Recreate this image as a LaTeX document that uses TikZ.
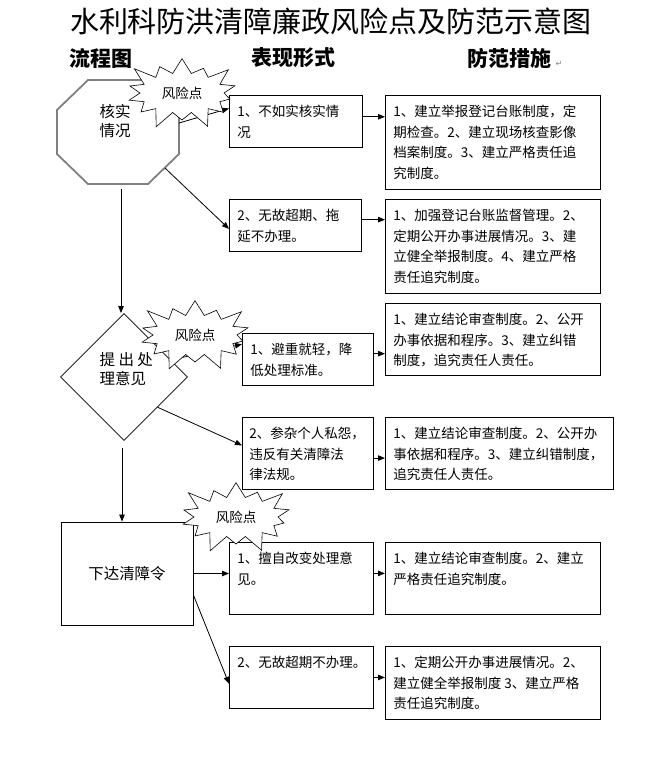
\documentclass[tikz,border=0pt]{standalone}
\usepackage{fontspec}
\setmainfont{Noto Sans CJK SC}
\newfontfamily\symfont{DejaVu Sans}
\usetikzlibrary{arrows.meta,shapes.geometric,shapes.symbols,positioning}
\newcommand{\boxtext}[3]{\parbox[t][#2][t]{#1}{\strut #3}}
\tikzset{
  box/.style={draw,line width=0.9pt,anchor=north west,inner xsep=8pt,inner ysep=7pt,
    font=\fontsize{13.5}{20.5}\selectfont},
  link/.style={line width=0.8pt,-{Triangle[length=7pt,width=5.5pt]}},
  burst/.style={starburst,draw,fill=white,line width=0.6pt,starburst points=14,
    starburst point height=20pt,minimum width=124pt,minimum height=80pt,inner sep=0pt,
    font=\fontsize{13.5}{16}\selectfont},
  head/.style={font=\fontsize{21}{24}\selectfont\bfseries}
}
\begin{document}
\begin{tikzpicture}[x=1pt,y=-1pt]
\useasboundingbox (0,0) rectangle (660,772);
% titles
\node (title) at (331,21) {\fontsize{29}{30}\selectfont 水利科防洪清障廉政风险点及防范示意图};
\node [head] (hd1) at (101,58) {流程图};
\node [head] (hd2) at (293,58) {表现形式};
\node [head] (hd3) at (509,58) {防范措施};
\node [anchor=base west,inner sep=0pt,text=gray,font=\symfont\fontsize{8}{9}\selectfont] (ret) at ([xshift=1pt]hd3.base east) {↵};
% flow chart
\draw [gray,line width=1.8pt] (88,80) -- (148,80) -- (179,110) -- (179,154) -- (148,184)
  -- (88,184) -- (57,154) -- (57,110) -- cycle;
\coordinate (o1) at (179,123);
\coordinate (o2) at (165,168);
\coordinate (o3) at (121,189);
\node [align=left,font=\fontsize{15.5}{19}\selectfont] (oct) at (115,121) {核实\\情况};
\node [diamond,draw,line width=0.8pt,minimum width=127pt,minimum height=127pt,inner sep=0pt] (d1) at (124,377) {};
\node [anchor=west,align=left,font=\fontsize{15.5}{18.5}\selectfont] (d1t) at (96,369) {提 出 处\\理意见};
\coordinate (d2) at (122,448);
\node [draw,line width=0.9pt,minimum width=132pt,minimum height=103pt,font=\fontsize{15.5}{18}\selectfont] (h1) at (127,573.5) {下达清障令};
% forms
\node [box] (f1) at (229,95) {\boxtext{117pt}{38pt}{1、不如实核实情\\况}};
\node [box] (f2) at (229,199) {\boxtext{116pt}{38pt}{2、无故超期、拖\\延不办理。}};
\node [box] (f3) at (242,333) {\boxtext{115pt}{38pt}{1、避重就轻，降\\低处理标准。}};
\node [box,inner xsep=7pt] (f4) at (242,417) {\boxtext{117pt}{58pt}{2、参杂个人私怨，\\违反有关清障法\\律法规。}};
\node [box] (f5) at (229,542) {\boxtext{128pt}{58pt}{1、擅自改变处理意\\见。}};
\node [box] (f6) at (229,646) {\boxtext{128pt}{48pt}{2、无故超期不办理。}};
% measures
\node [box] (g1) at (385,95) {\boxtext{199pt}{80pt}{1、建立举报登记台账制度，定\\期检查。2、建立现场核查影像\\档案制度。3、建立严格责任追\\究制度。}};
\node [box] (g2) at (385,199) {\boxtext{199pt}{80pt}{1、加强登记台账监督管理。2、\\定期公开办事进展情况。3、建\\立健全举报制度。4、建立严格\\责任追究制度。}};
\node [box] (g3) at (385,303) {\boxtext{199pt}{58pt}{1、建立结论审查制度。2、公开\\办事依据和程序。3、建立纠错\\制度，追究责任人责任。}};
\node [box] (g4) at (385,417) {\boxtext{212pt}{58pt}{1、建立结论审查制度。2、公开办\\事依据和程序。3、建立纠错制度，\\追究责任人责任。}};
\node [box] (g5) at (385,542) {\boxtext{199pt}{58pt}{1、建立结论审查制度。2、建立\\严格责任追究制度。}};
\node [box] (g6) at (385,646) {\boxtext{199pt}{59pt}{1、定期公开办事进展情况。2、\\建立健全举报制度 3、建立严格\\责任追究制度。}};
% connectors
\draw [link] (o1) -- (f1.169);
\draw [link] (o2) -- (f2.183);
\draw [link] (o3) -- (o3 |- d1.north);
\draw [link] (d1.20) -- (f3.167);
\draw [link] (d1.-42) -- (f4.173);
\draw [link] (d2) -- (d2 |- h1.north);
\draw [link] (h1.east) -- (h1.east -| f5.west);
\draw [link] (h1.-18) -- (f6.185);
\draw [link] (f1.4) -- (f1.4 -| g1.west);
\draw [link] (f2.5) -- (f2.5 -| g2.west);
\draw [link] (f3.5) -- (f3.5 -| g3.west);
\draw [link] (f4.-4) -- (f4.-4 -| g4.west);
\draw [link] (f5.4) -- (f5.4 -| g5.west);
\draw [link] (f6.east) -- (f6.east -| g6.west);
% risk points
\node [burst] (r1) at (182,93) {风险点};
\node [burst] (r2) at (195,335) {风险点};
\node [burst] (r3) at (236,517) {风险点};
\end{tikzpicture}
\end{document}
